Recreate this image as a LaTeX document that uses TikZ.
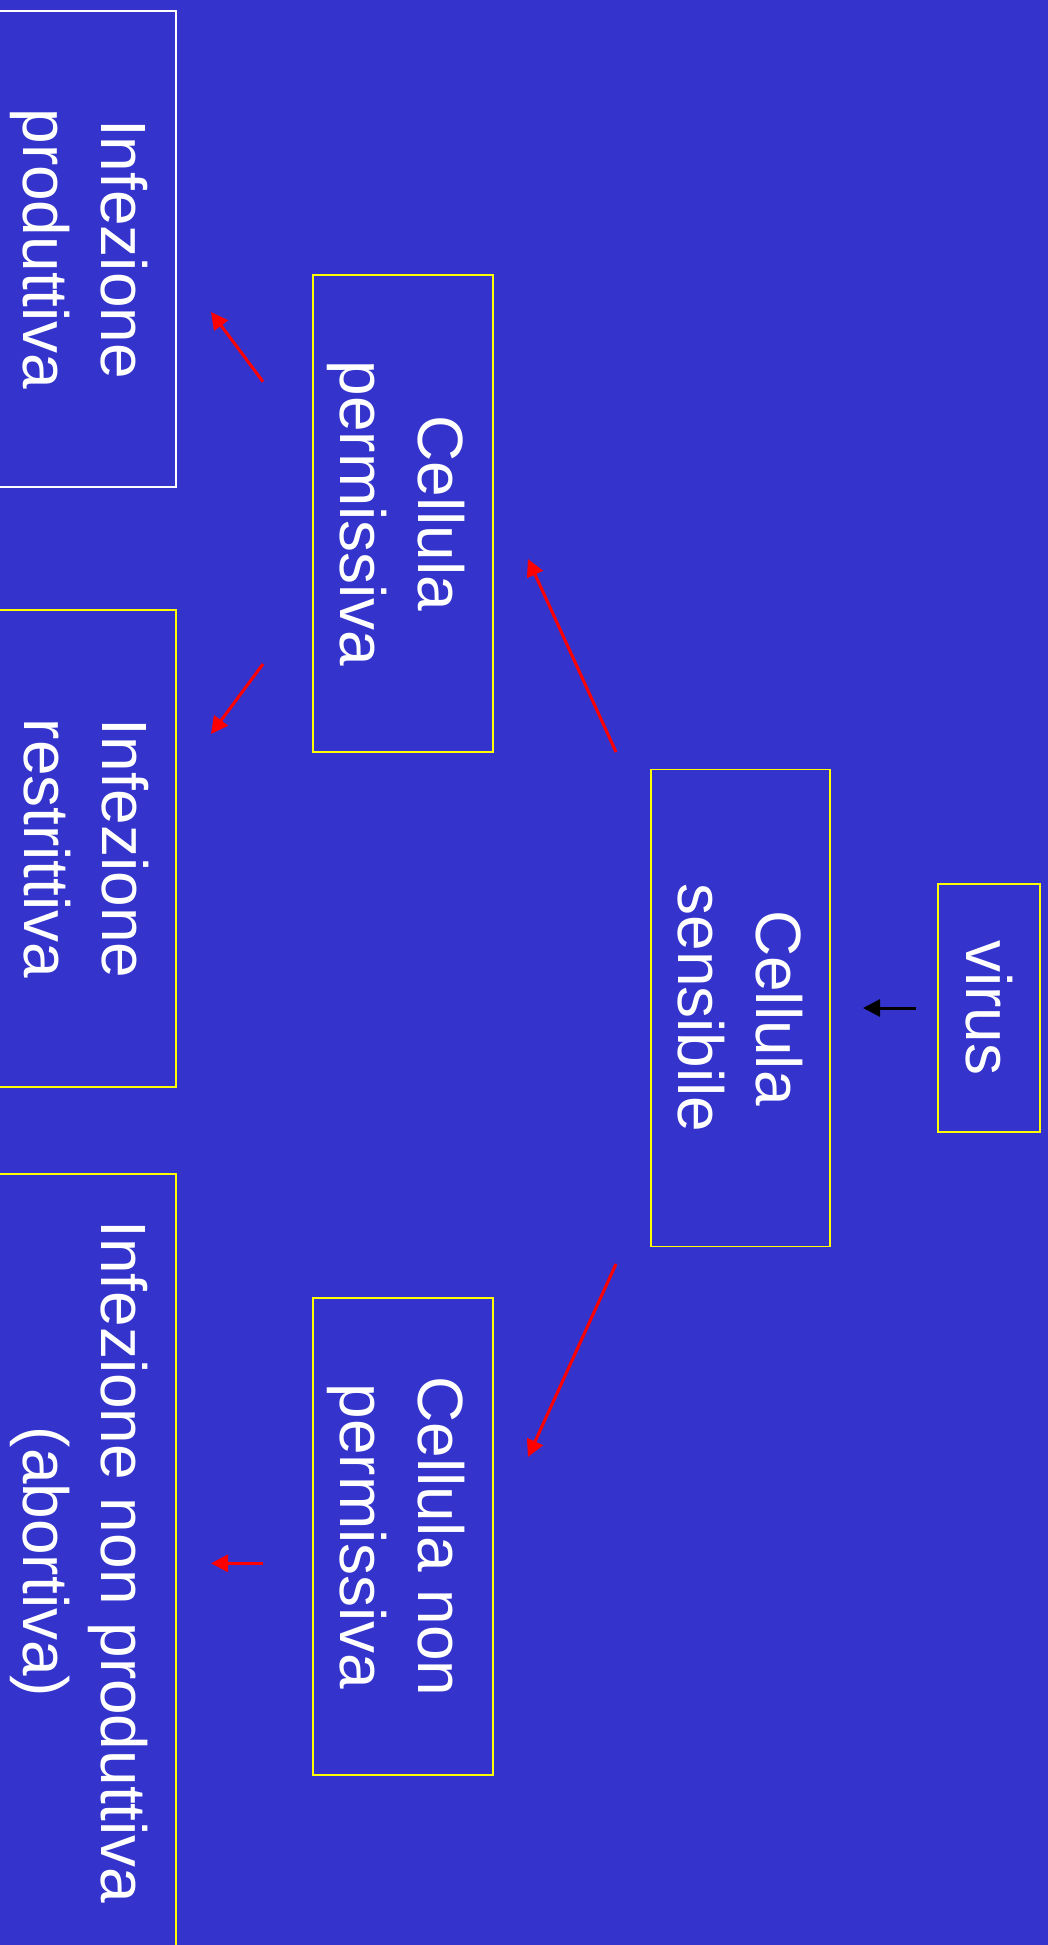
\documentclass[tikz,border=0pt]{standalone}
\usepackage{fontspec}
\setmainfont{Liberation Sans}
\usetikzlibrary{arrows.meta}
\definecolor{slideblue}{RGB}{52,52,204}
\definecolor{boxyellow}{RGB}{255,255,0}

\begin{document}
\begin{tikzpicture}[%
    x=1pt, y=-1pt,
    >={Triangle[length=17pt,width=17pt]},
    every node/.style={font=\fontsize{64}{78}\selectfont, text=white},
    box/.style={draw=boxyellow, line width=1.6pt, rotate=-90, align=center, inner sep=0pt},
    link/.style={->, line width=3pt, red}
]

% slide background
\useasboundingbox (0,0) rectangle (1048,1945);
\clip (0,0) rectangle (1048,1945);
\fill[slideblue] (0,0) rectangle (1048,1945);

% virus and the cell it meets
\node[box, minimum width=248pt, minimum height=102pt] (virus) at (989,1008) {virus};
\node[box, minimum width=477pt, minimum height=179pt] (sens) at (740.5,1008) {Cellula\\sensibile};

% the two kinds of cell
\node[box, minimum width=477pt, minimum height=180pt] (perm) at (403,513.5) {Cellula\\\smash{permissiva}};
\node[box, minimum width=477pt, minimum height=180pt] (nonperm) at (403,1536.6) {Cellula non\\\smash{permissiva}};

% outcomes, cut at the left edge
\node[box, draw=white, minimum width=476pt, minimum height=180pt] (prod) at (86,249) {Infezione\\\smash{produttiva}};
\node[box, minimum width=477pt, minimum height=180pt] (restr) at (86,848.5) {Infezione\\restrittiva};
\node[box, minimum width=776pt, minimum height=180pt] (abort) at (86,1562) {Infezione non produttiva\\\smash{(abortiva)}};

% arrows
\draw[link, black] ([shift={(-73,0)}]virus.center) -- ([shift={(122.5,0)}]sens.center);
\draw[link] ([shift={(-124.5,-256)}]sens.center) -- ([shift={(125,45.5)}]perm.center);
\draw[link] ([shift={(-124.5,256)}]sens.center) -- ([shift={(125,-79.6)}]nonperm.center);
\draw[link] ([shift={(-140,-131.8)}]perm.center) -- ([shift={(125,63)}]prod.center);
\draw[link] ([shift={(-140,150.5)}]perm.center) -- ([shift={(125,-114.5)}]restr.center);
\draw[link] ([shift={(-140,26.7)}]nonperm.center) -- ([shift={(125,1.3)}]abort.center);

\end{tikzpicture}
\end{document}
